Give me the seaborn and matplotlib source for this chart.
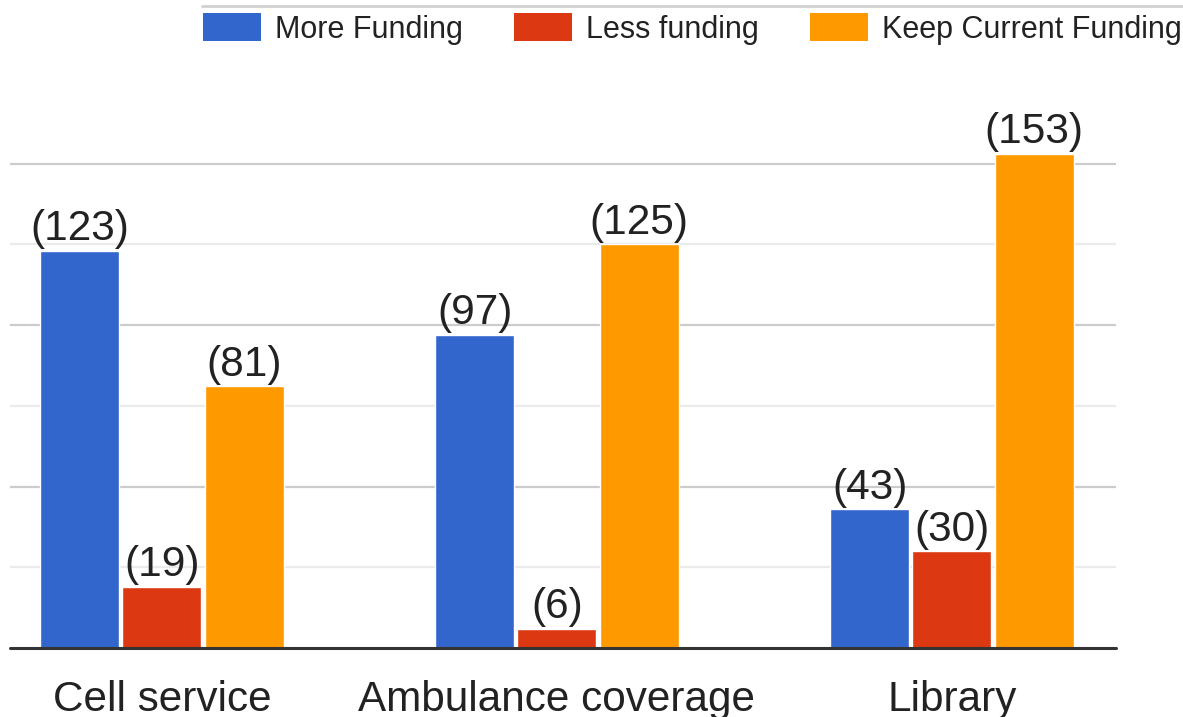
import matplotlib
matplotlib.use("Agg")
import matplotlib.pyplot as plt
import seaborn as sns
import pandas as pd
from matplotlib.lines import Line2D
from matplotlib.patches import Patch

categories = ["Cell service", "Ambulance coverage", "Library"]
series = ["More Funding", "Less funding", "Keep Current Funding"]
more_funding = [123, 97, 43]
less_funding = [19, 6, 30]
keep_current = [81, 125, 153]
colors = ["#3366cc", "#dc3912", "#ff9900"]

rows = []
for name, vals in zip(series, [more_funding, less_funding, keep_current]):
    for c, v in zip(categories, vals):
        rows.append({"category": c, "series": name, "value": v})
df = pd.DataFrame(rows)

sns.set_theme(style="white")
plt.rcParams['font.family'] = ['Liberation Sans', 'DejaVu Sans']

W, H = 1183, 717
fig = plt.figure(figsize=(W / 100, H / 100), dpi=100)
ax = fig.add_axes([10 / W, (H - 648) / H, 1106 / W, 548 / H])

sns.barplot(data=df, x="category", y="value", hue="series", hue_order=series,
            order=categories, palette=colors, width=0.625, gap=0.04,
            saturation=1, ax=ax, legend=False, errorbar=None, zorder=2)

ax.set_xlim(-0.3848, 2.4152)
ax.set_ylim(0, 548 / 3.23)

ax.set_yticks([50, 100, 150])
ax.set_yticks([25, 75, 125], minor=True)
ax.grid(axis='y', which='major', color='#cccccc', lw=1.6, zorder=0)
ax.grid(axis='y', which='minor', color='#ebebeb', lw=1.6, zorder=0)
ax.set_axisbelow(True)
ax.tick_params(axis='y', which='both', left=False, labelleft=False)
ax.tick_params(axis='x', bottom=False, labelsize=30.4, pad=17, labelcolor='#222222')
for s in ax.spines.values():
    s.set_visible(False)
ax.axhline(0, color='#333333', lw=2.2, zorder=3, clip_on=False)
ax.set_xlabel("")
ax.set_ylabel("")

for cont, vals in zip(ax.containers, [more_funding, less_funding, keep_current]):
    for bar, v in zip(cont, vals):
        ax.annotate(f"({v})", (bar.get_x() + bar.get_width() / 2, bar.get_height()),
                    xytext=(0, 7.5), textcoords='offset points', ha='center',
                    va='baseline', fontsize=30.5, color='#222222', annotation_clip=False)

handles = [Patch(facecolor=c, edgecolor='none') for c in colors]
leg = fig.legend(handles, series, loc='center left', bbox_to_anchor=(203 / W, 1 - 29 / H),
                 ncol=3, frameon=False, fontsize=22, handlelength=1.9, handleheight=1.0,
                 handletextpad=0.46, columnspacing=1.67, borderpad=0, borderaxespad=0)
for t in leg.get_texts():
    t.set_color('#222222')

fig.add_artist(Line2D([202 / W, 1], [1 - 6 / H] * 2, color='#d0d0d0', lw=2,
                      transform=fig.transFigure))

fig.savefig("out.png", dpi=100)
